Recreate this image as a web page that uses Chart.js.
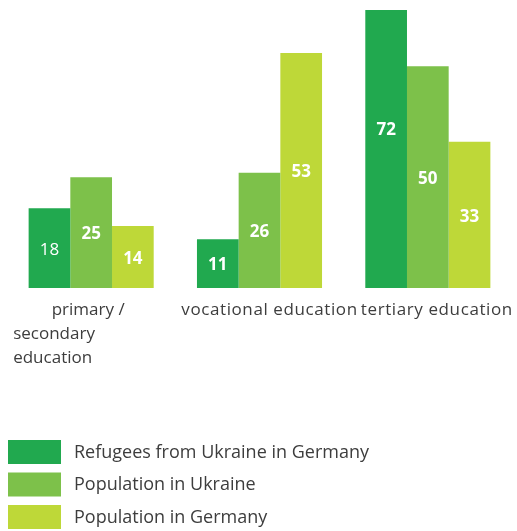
<!DOCTYPE html>
<html>
<head>
<meta charset="utf-8">
<script src="https://cdn.jsdelivr.net/npm/chart.js@4/dist/chart.umd.min.js"></script>
<style>
  html, body { margin: 0; padding: 0; background: #ffffff; }
  #wrap { width: 517px; height: 531px; position: relative; }
</style>
</head>
<body>
<div id="wrap"><canvas id="c" width="517" height="531"></canvas></div>
<script>
// ---- data ----
const categories = [['primary /', 'secondary', 'education'], ['vocational education'], ['tertiary education']];
const seriesNames = ['Refugees from Ukraine in Germany', 'Population in Ukraine', 'Population in Germany'];
const refugeesInGermany = [18, 11, 72];
const populationUkraine = [25, 26, 50];
const populationGermany = [14, 53, 33];

// ---- styles ----
const seriesColors = ['#21a94f', '#7dc14a', '#bed838'];
const textColor = '#3d3d3d';
const fontFamily = "'Open Sans', 'Noto Sans', sans-serif";

const valueLabels = {
  id: 'valueLabels',
  afterDatasetsDraw(chart) {
    const ctx = chart.ctx;
    ctx.save();
    ctx.fillStyle = '#ffffff';
    ctx.textAlign = 'center';
    ctx.textBaseline = 'middle';
    chart.data.datasets.forEach((ds, di) => {
      const meta = chart.getDatasetMeta(di);
      meta.data.forEach((el, i) => {
        const regular = (di === 0 && i === 0);
        ctx.font = (regular ? '400 ' : '700 ') + '17px ' + fontFamily;
        const y = (el.y + el.base) / 2;
        ctx.fillText(String(ds.data[i]), el.x, y + 2);
      });
    });
    ctx.restore();
  }
};

const categoryLabels = {
  id: 'categoryLabels',
  afterDraw(chart) {
    const ctx = chart.ctx;
    const xs = chart.scales.x;
    const base = chart.chartArea.bottom;
    ctx.save();
    ctx.fillStyle = textColor;
    ctx.font = '400 17px ' + fontFamily;
    ctx.textBaseline = 'alphabetic';
    chart.data.labels.forEach((lines, i) => {
      const px = xs.getPixelForValue(i);
      lines.forEach((line, k) => {
        const y = base + 27 + 24 * k;
        if (i === 0) {
          ctx.letterSpacing = '0px';
          if (k === 0) { ctx.textAlign = 'center'; ctx.fillText(line, px - 3, y); }
          else { ctx.textAlign = 'left'; ctx.fillText(line, px - 78, y); }
        } else {
          ctx.letterSpacing = '0.6px';
          ctx.textAlign = 'center';
          ctx.fillText(line, px + (i === 1 ? 10 : 9), y);
        }
      });
    });
    ctx.restore();
  }
};

const boxLegend = {
  id: 'boxLegend',
  afterDraw(chart) {
    const ctx = chart.ctx;
    ctx.save();
    ctx.font = '400 18px ' + fontFamily;
    ctx.textAlign = 'left';
    ctx.textBaseline = 'middle';
    chart.data.datasets.forEach((ds, k) => {
      const top = 440 + 32.5 * k;
      ctx.fillStyle = ds.backgroundColor;
      ctx.fillRect(8, top, 53, 24);
      ctx.fillStyle = textColor;
      ctx.fillText(ds.label, 74, top + 12.5);
    });
    ctx.restore();
  }
};

const seriesValues = [refugeesInGermany, populationUkraine, populationGermany];

new Chart(document.getElementById('c'), {
  type: 'bar',
  data: {
    labels: categories,
    datasets: seriesValues.map((vals, k) => ({
      label: seriesNames[k],
      data: vals,
      backgroundColor: seriesColors[k],
      borderWidth: 0,
      categoryPercentage: 0.743,
      barPercentage: 1.0
    }))
  },
  options: {
    responsive: false,
    devicePixelRatio: 1,
    animation: false,
    events: [],
    layout: { padding: { top: 10, left: 7, right: 5, bottom: 243 } },
    plugins: {
      legend: { display: false },
      tooltip: { enabled: false },
      title: { display: false }
    },
    scales: {
      x: { display: false },
      y: { display: false, min: 0, max: 62.7 }
    }
  },
  plugins: [valueLabels, categoryLabels, boxLegend]
});
</script>
</body>
</html>
